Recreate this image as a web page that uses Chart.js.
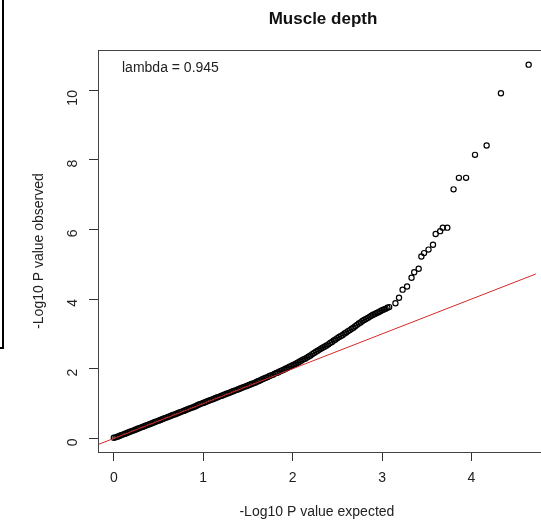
<!DOCTYPE html>
<html>
<head>
<meta charset="utf-8">
<title>Muscle depth</title>
<script src="https://cdn.jsdelivr.net/npm/chart.js@4.4.1/dist/chart.umd.min.js"></script>
<style>
  body { margin: 0; background: #fff; }
  #wrap { width: 541px; height: 521px; }
</style>
</head>
<body>
<div id="wrap"><canvas id="qq" width="541" height="521"></canvas></div>
<script>
// -log10 P expected / observed
var expected = [
  0.00,0.02,0.04,0.06,0.08,0.10,0.12,0.14,0.16,0.18,0.20,0.22,0.24,0.26,0.28,0.30,0.32,0.34,0.36,0.38,
  0.40,0.42,0.44,0.46,0.48,0.50,0.52,0.54,0.56,0.58,0.60,0.62,0.64,0.66,0.68,0.70,0.72,0.74,0.76,0.78,
  0.80,0.82,0.84,0.86,0.88,0.90,0.92,0.94,0.96,0.98,1.00,1.02,1.04,1.06,1.08,1.10,1.12,1.14,1.16,1.18,
  1.20,1.22,1.24,1.26,1.28,1.30,1.32,1.34,1.36,1.38,1.40,1.42,1.44,1.46,1.48,1.50,1.52,1.54,1.56,1.58,
  1.60,1.62,1.64,1.66,1.68,1.70,1.72,1.74,1.76,1.78,1.80,1.82,1.84,1.86,1.88,1.90,1.92,1.94,1.96,1.98,
  2.00,2.02,2.04,2.06,2.08,2.10,2.12,2.14,2.16,2.18,2.20,2.22,2.24,2.26,2.28,2.30,2.32,2.34,2.36,2.38,
  2.40,2.42,2.44,2.46,2.48,2.50,2.52,2.54,2.56,2.58,2.60,2.62,2.64,2.66,2.68,2.70,2.72,2.74,2.76,2.78,
  2.80,2.82,2.84,2.86,2.88,2.90,2.92,2.94,2.96,2.98,3.00,3.02,3.04,3.06,3.08,
  3.15,3.19,3.23,3.28,3.33,3.36,3.41,3.44,3.47,3.52,3.57,3.60,3.65,3.68,3.73,3.80,3.86,3.94,
  4.04,4.17,4.33,4.64];
var observed = [
  0.02,0.03,0.05,0.07,0.09,0.11,0.13,0.15,0.17,0.19,0.21,0.23,0.25,0.27,0.29,0.31,0.33,0.35,0.37,0.39,
  0.41,0.43,0.45,0.47,0.49,0.51,0.53,0.55,0.57,0.59,0.61,0.63,0.65,0.67,0.69,0.71,0.73,0.75,0.77,0.79,
  0.81,0.83,0.85,0.87,0.89,0.91,0.93,0.96,0.98,1.00,1.02,1.04,1.06,1.08,1.10,1.12,1.14,1.16,1.18,1.20,
  1.22,1.24,1.26,1.28,1.30,1.32,1.34,1.36,1.38,1.40,1.42,1.44,1.46,1.48,1.50,1.52,1.54,1.56,1.58,1.60,
  1.63,1.65,1.67,1.70,1.72,1.74,1.76,1.79,1.81,1.83,1.86,1.88,1.90,1.93,1.95,1.97,2.00,2.02,2.05,2.07,
  2.10,2.12,2.15,2.18,2.21,2.24,2.27,2.29,2.32,2.35,2.38,2.42,2.45,2.49,2.52,2.55,2.58,2.61,2.64,2.67,
  2.70,2.74,2.77,2.81,2.84,2.88,2.91,2.94,2.97,3.01,3.04,3.08,3.11,3.15,3.18,3.22,3.26,3.30,3.33,3.37,
  3.40,3.43,3.46,3.49,3.52,3.55,3.57,3.60,3.62,3.65,3.68,3.70,3.72,3.75,3.77,
  3.88,4.04,4.27,4.36,4.61,4.77,4.87,5.22,5.32,5.42,5.56,5.87,5.95,6.05,6.05,7.15,7.48,7.48,
  8.14,8.41,9.91,10.73];
var lineEnds = [-1, 6];
var xTicks = [0, 1, 2, 3, 4];
var yTicks = [0, 2, 4, 6, 8, 10];
var lambdaText = 'lambda = 0.945';

var pts = expected.map(function(e, i) { return {x: e, y: observed[i]}; });
var diag = lineEnds.map(function(v) { return {x: v, y: v}; });

var FONT = '"Liberation Sans", Arial, sans-serif';

var extras = {
  id: 'extras',
  beforeDraw: function(chart) {
    var c = chart.ctx;
    c.save();
    c.fillStyle = '#fff';
    c.fillRect(0, 0, chart.width, chart.height);
    // cut-off box at the far left
    c.strokeStyle = '#000';
    c.lineWidth = 2;
    c.strokeRect(-10, -10, 13, 358);
    c.restore();
  },
  afterDraw: function(chart) {
    var c = chart.ctx, a = chart.chartArea;
    c.save();
    c.strokeStyle = '#444';
    c.lineWidth = 1;
    c.strokeRect(a.left + 0.5, a.top + 0.5, a.right - a.left + 20, a.bottom - a.top);
    c.fillStyle = '#111';
    c.font = 'bold 17px ' + FONT;
    c.textAlign = 'center';
    c.textBaseline = 'alphabetic';
    c.fillText('Muscle depth', 323, 24);
    c.font = '14px ' + FONT;
    c.textAlign = 'left';
    c.fillStyle = '#222';
    c.fillText(lambdaText, 122, 72);
    c.restore();
  }
};

new Chart(document.getElementById('qq'), {
  type: 'scatter',
  data: {
    datasets: [
      {
        label: 'expected line',
        type: 'line',
        data: diag,
        borderColor: '#d42a2a',
        borderWidth: 1,
        pointRadius: 0,
        fill: false,
        order: 0
      },
      {
        label: 'observed',
        data: pts,
        pointStyle: 'circle',
        pointRadius: 2.6,
        pointBorderWidth: 1.2,
        borderColor: '#000',
        backgroundColor: 'rgba(0,0,0,0)',
        order: 1
      }
    ]
  },
  options: {
    responsive: false,
    animation: false,
    layout: { padding: { top: 50, right: 0, left: 0, bottom: 0 } },
    plugins: { legend: { display: false }, tooltip: { enabled: false }, title: { display: false } },
    scales: {
      x: {
        type: 'linear',
        min: -0.177,
        max: 4.72,
        afterFit: function(s) { s.height = 69; },
        afterBuildTicks: function(s) { s.ticks = xTicks.map(function(v) { return {value: v}; }); },
        grid: { drawOnChartArea: false, drawTicks: true, tickLength: 9, tickColor: '#333' },
        border: { display: true, color: '#444' },
        ticks: { padding: 9, color: '#222', font: { family: FONT, size: 14 } },
        title: { display: true, text: '-Log10 P value expected', color: '#222',
                 font: { family: FONT, size: 14 }, padding: { top: 1, bottom: 0 } }
      },
      y: {
        type: 'linear',
        min: -0.39,
        max: 11.15,
        afterFit: function(s) { s.width = 98; },
        afterBuildTicks: function(s) { s.ticks = yTicks.map(function(v) { return {value: v}; }); },
        grid: { drawOnChartArea: false, drawTicks: true, tickLength: 9, tickColor: '#333' },
        border: { display: true, color: '#444' },
        ticks: { padding: 16, minRotation: 90, maxRotation: 90, color: '#222',
                 font: { family: FONT, size: 14 } },
        title: { display: true, text: '-Log10 P value observed', color: '#222',
                 font: { family: FONT, size: 14 }, padding: { top: 31, bottom: 0 } }
      }
    }
  },
  plugins: [extras]
});
</script>
</body>
</html>
